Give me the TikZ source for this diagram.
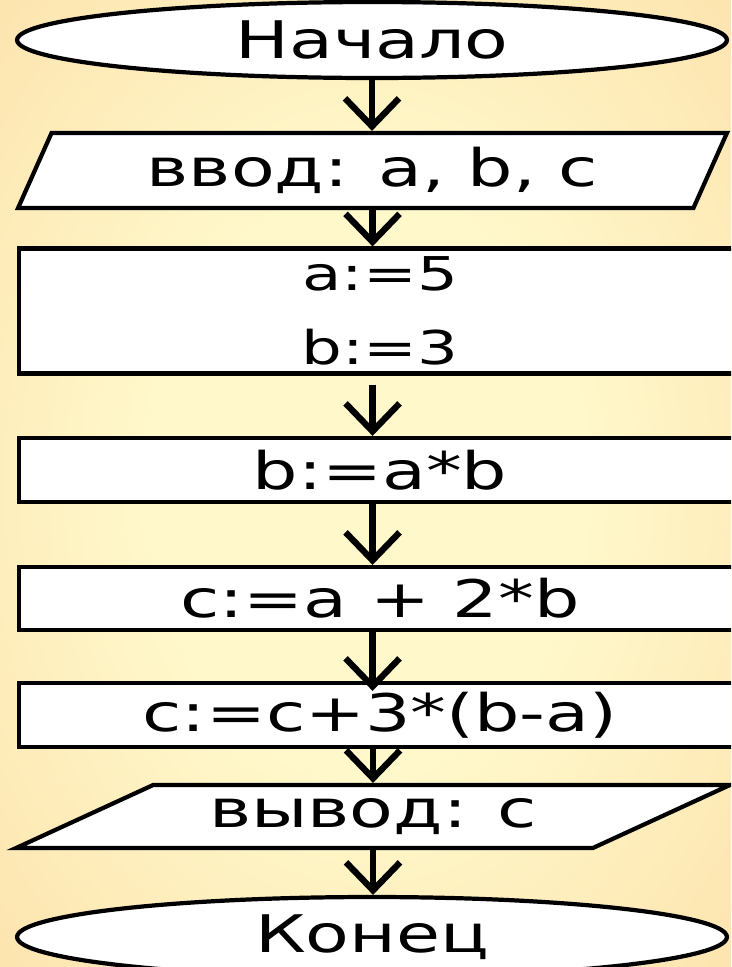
\documentclass[tikz,border=0pt]{standalone}
\usepackage{fontspec}
\setmainfont{DejaVu Sans}[FakeStretch=1.38]
\usepackage{tikz}
\usetikzlibrary{shapes.geometric}
\usetikzlibrary{arrows.meta}
\definecolor{bgin}{RGB}{255,248,202}
\definecolor{bgout}{RGB}{251,214,156}
\pgfdeclareradialshading{bgglow}{\pgfpoint{0bp}{0bp}}{color(0bp)=(bgin); color(15bp)=(bgin); color(50bp)=(bgout)}

\begin{document}
\begin{tikzpicture}[x=0.02cm, y=-0.02cm,
    box/.style={draw, line width=2.4pt, fill=white, inner sep=2pt, font=\fontsize{29.5}{36}\selectfont},
    term/.style={box, ellipse, minimum width=14.2cm},
    io/.style={box, trapezium, trapezium stretches body},
    act/.style={box, rectangle, minimum width=14.44cm, minimum height=1.28cm},
    flow/.style={line width=3.6pt, -{Straight Barb[length=0.56cm, width=1.08cm]}}]

    % Draw background
    \useasboundingbox (0,0) rectangle (731,967);
    \clip (0,0) rectangle (731,967);
    \shade[shading=bgglow] (0,0) rectangle (731,967);

    % Draw the blocks
    \node[term, minimum height=1.52cm] (start) at (372,40) {Начало};
    \node[io, minimum width=14.18cm, minimum height=1.5cm,
        trapezium left angle=58, trapezium right angle=122] (in) at (372.5,170.5) {ввод: a, b, c};
    \node[act, minimum height=2.5cm, align=center, font=\fontsize{26.5}{42}\selectfont] (init) at (380,311) {a:=5\\b:=3};
    \node[act] (mul) at (380,470) {b:=a*b};
    \node[act, minimum height=1.26cm] (sum) at (380,598.5) {c:=a + 2*b};
    \node[act] (upd) at (380,715) {c:=c+3*(b-a)};
    \node[io, minimum width=14.28cm, minimum height=1.26cm,
        trapezium left angle=17.5, trapezium right angle=162.5] (out) at (373,816.5) {вывод: c};
    \node[term, minimum height=1.6cm] (stop) at (372,937) {Конец};

    % Draw the arrows
    \draw[flow] (start.south) -- (start.south |- in.north);
    \draw[flow] (in.south) -- (in.south |- init.north);
    \draw[flow, shorten <=0.18cm] (in.south |- init.south) -- (in.south |- mul.north);
    \draw[flow] (in.south |- mul.south) -- (in.south |- sum.north);
    \draw[flow, shorten >=-0.2cm] (in.south |- sum.south) -- (in.south |- upd.north);
    \draw[flow] (out.north |- upd.south) -- (out.north);
    \draw[flow] (out.south) -- (out.south |- stop.north);

\end{tikzpicture}
\end{document}
